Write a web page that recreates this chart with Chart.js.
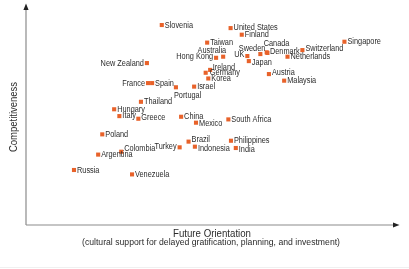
<!DOCTYPE html>
<html>
<head>
<meta charset="utf-8">
<script src="https://cdn.jsdelivr.net/npm/chart.js@4.4.1/dist/chart.umd.min.js"></script>
<style>
  html, body { margin: 0; padding: 0; background: #ffffff; }
  #wrap { width: 409px; height: 269px; position: relative; }
</style>
</head>
<body>
<div id="wrap"><canvas id="c" width="409" height="269"></canvas></div>
<script>
// ---- Data ----
const countries = [
  'Slovenia','United States','Finland','Taiwan','Singapore','Australia','Hong Kong','UK','Japan',
  'Sweden','Canada','Denmark','Switzerland','Netherlands','Austria','Malaysia','New Zealand',
  'France','Spain','Portugal','Israel','Ireland','Germany','Korea','Thailand','Hungary','Italy',
  'Greece','China','Mexico','South Africa','Poland','Brazil','Turkey','Indonesia','Philippines',
  'India','Colombia','Argentina','Venezuela','Russia'
];
const futureOrientation = [
  36.5, 55.0, 58.0, 48.7, 85.6, 53.0, 51.1, 59.5, 59.9,
  63.0, 64.7, 64.9, 74.3, 70.3, 65.3, 69.4, 32.5,
  32.8, 33.9, 40.3, 45.2, 49.5, 48.3, 49.0, 30.9, 23.7, 25.1,
  30.2, 41.7, 45.7, 54.4, 20.5, 43.7, 41.3, 45.4, 55.1,
  56.4, 25.6, 19.4, 28.5, 12.9
];
const competitiveness = [
  90.9, 89.5, 86.5, 82.9, 83.3, 76.5, 76.0, 76.8, 74.5,
  77.7, 78.5, 78.2, 79.5, 76.5, 68.6, 65.6, 73.6,
  64.5, 64.5, 62.6, 62.9, 70.5, 69.2, 66.6, 56.0, 52.6, 49.5,
  48.3, 49.2, 46.5, 48.0, 41.2, 37.9, 35.3, 35.6, 38.3,
  35.0, 33.3, 32.0, 23.0, 25.0
];
const xTitle = 'Future Orientation';
const xSubtitle = '(cultural support for delayed gratification, planning, and investment)';
const yTitle = 'Competitiveness';

// ---- Label placement (style only) : [align, dx, dy] ----
const labelPlacement = {
  'United States': ['left', 3, -1],
  'Switzerland': ['left', 3, -2],
  'Austria': ['left', 3, -1.3],
  'Japan': ['left', 3, 1],
  'UK': ['right', -3, -2],
  'Sweden': ['right', 5, -6],
  'Canada': ['left', -3, -8.5],
  'Denmark': ['left', 2.5, -1],
  'Australia': ['right', 3, -6],
  'Hong Kong': ['right', -3, -1],
  'Ireland': ['left', 2.5, -2.7],
  'Germany': ['left', 4, -0.4],
  'Portugal': ['left', -2, 8],
  'France': ['right', -3, 0],
  'New Zealand': ['right', -3, 0],
  'Turkey': ['right', -3, -1],
  'Colombia': ['left', 3, -3],
  'Brazil': ['left', 3, -1.7],
  'Indonesia': ['left', 3, 1.3],
  'Philippines': ['left', 3, -0.7],
  'India': ['left', 3, 1.3],
  'Hungary': ['left', 3, -0.3],
  'Italy': ['left', 3, -0.7],
  'Greece': ['left', 3, -1.4],
  'China': ['left', 3, -0.7],
  'Mexico': ['left', 3, 1]
};

const FONT = '"Liberation Sans", Arial, sans-serif';
const ORANGE = '#E8622A';
const TEXT = '#2b2b2b';

function condensedText(ctx, text, x, y, align, sx) {
  ctx.save();
  ctx.translate(x, y);
  ctx.scale(sx, 1);
  ctx.textAlign = align;
  ctx.fillText(text, 0, 0);
  ctx.restore();
}
function fitText(ctx, text, x, y, targetW) {
  const w = ctx.measureText(text).width;
  condensedText(ctx, text, x, y, 'center', targetW / w);
}

const axesPlugin = {
  id: 'axesAndLabels',
  beforeDatasetsDraw(chart) {
    const {ctx, chartArea: a} = chart;
    ctx.save();
    // faint bottom rule
    ctx.strokeStyle = '#f0f0f0';
    ctx.lineWidth = 1;
    ctx.beginPath();
    ctx.moveTo(0, 267.5);
    ctx.lineTo(409, 267.5);
    ctx.stroke();

    ctx.strokeStyle = '#8c8c8c';
    ctx.lineWidth = 1.2;
    ctx.beginPath();
    ctx.moveTo(a.left, a.bottom);
    ctx.lineTo(a.left, a.top + 3);
    ctx.moveTo(a.left, a.bottom);
    ctx.lineTo(a.right - 2, a.bottom);
    ctx.stroke();
    ctx.fillStyle = '#222';
    ctx.beginPath();
    ctx.moveTo(a.left, a.top - 1.5);
    ctx.lineTo(a.left - 2.6, a.top + 5);
    ctx.lineTo(a.left + 2.6, a.top + 5);
    ctx.closePath();
    ctx.fill();
    ctx.beginPath();
    ctx.moveTo(a.right + 1.5, a.bottom);
    ctx.lineTo(a.right - 5, a.bottom - 2.6);
    ctx.lineTo(a.right - 5, a.bottom + 2.6);
    ctx.closePath();
    ctx.fill();

    ctx.fillStyle = TEXT;
    ctx.textBaseline = 'middle';
    ctx.font = '10.5px ' + FONT;
    fitText(ctx, xTitle, 212, 234, 78);
    ctx.font = '9px ' + FONT;
    fitText(ctx, xSubtitle, 211, 243, 258);
    ctx.save();
    ctx.translate(14, 117);
    ctx.rotate(-Math.PI / 2);
    ctx.font = '10.5px ' + FONT;
    fitText(ctx, yTitle, 0, 0, 70);
    ctx.restore();
    ctx.restore();
  },
  afterDatasetsDraw(chart) {
    const {ctx} = chart;
    const meta = chart.getDatasetMeta(0);
    ctx.save();
    ctx.font = '9.2px ' + FONT;
    ctx.fillStyle = TEXT;
    ctx.textBaseline = 'middle';
    meta.data.forEach((pt, i) => {
      const name = countries[i];
      const p = labelPlacement[name] || ['left', 3, 0];
      condensedText(ctx, name, pt.x + p[1], pt.y + p[2], p[0], 0.8);
    });
    ctx.restore();
  }
};

new Chart(document.getElementById('c'), {
  type: 'scatter',
  data: {
    datasets: [{
      label: 'Countries',
      data: countries.map((c, i) => ({x: futureOrientation[i], y: competitiveness[i]})),
      pointStyle: 'rect',
      pointRadius: 2.9,
      pointHoverRadius: 2.9,
      backgroundColor: ORANGE,
      borderWidth: 0
    }]
  },
  options: {
    responsive: false,
    animation: false,
    events: [],
    layout: { padding: { left: 26, top: 5, right: 11, bottom: 44 } },
    plugins: { legend: { display: false }, tooltip: { enabled: false } },
    scales: {
      x: { type: 'linear', min: 0, max: 100, display: false },
      y: { type: 'linear', min: 0, max: 100, display: false }
    }
  },
  plugins: [axesPlugin]
});
</script>
</body>
</html>
